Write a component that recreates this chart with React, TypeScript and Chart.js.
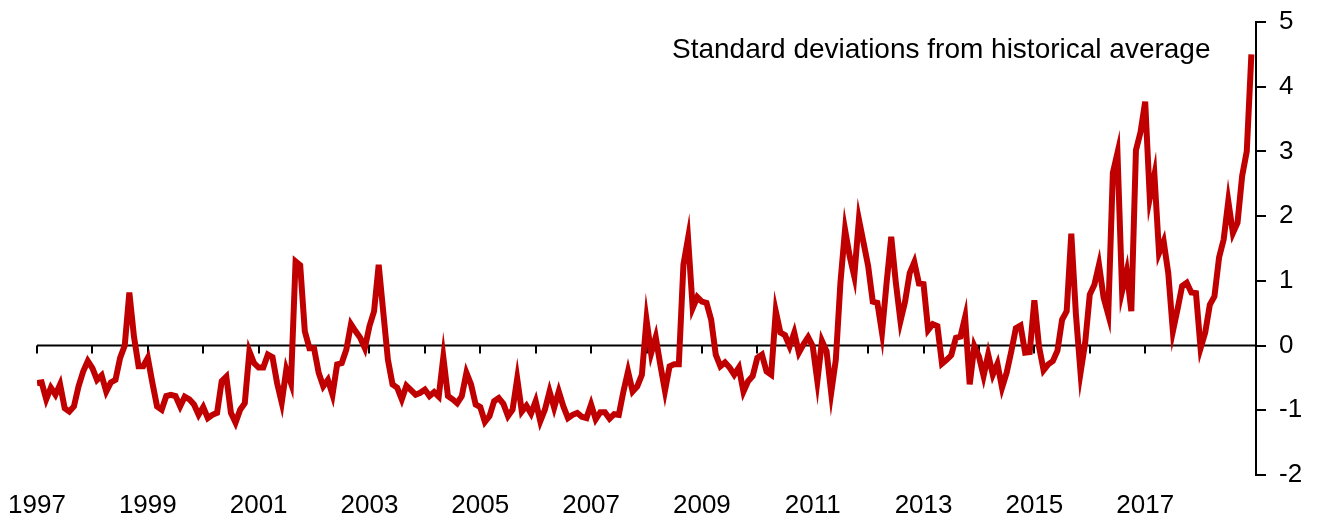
import React, { useEffect, useRef } from "react";
import { Chart, registerables } from "chart.js";

Chart.register(...registerables);

const START_YEAR = 1997;
const END_YEAR = 2019;
const LABEL_YEARS = [1997, 1999, 2001, 2003, 2005, 2007, 2009, 2011, 2013, 2015, 2017];
const TITLE = "Standard deviations from historical average";

const V1997 = [-0.58, -0.57, -0.83, -0.65, -0.76, -0.6, -0.97, -1.02, -0.94, -0.63, -0.4, -0.24];
const V1998 = [-0.35, -0.53, -0.46, -0.71, -0.57, -0.53, -0.19, 0.0, 0.82, 0.14, -0.32, -0.32];
const V1999 = [-0.19, -0.58, -0.94, -0.99, -0.78, -0.76, -0.78, -0.94, -0.79, -0.83, -0.91, -1.07];
const V2000 = [-0.95, -1.12, -1.07, -1.04, -0.55, -0.48, -1.04, -1.19, -0.99, -0.89, -0.09, -0.27];
const V2001 = [-0.34, -0.34, -0.14, -0.18, -0.58, -0.88, -0.37, -0.58, 1.3, 1.24, 0.22, -0.04];
const V2002 = [-0.04, -0.42, -0.63, -0.53, -0.76, -0.29, -0.27, -0.06, 0.33, 0.22, 0.12, -0.04];
const V2003 = [0.3, 0.53, 1.25, 0.51, -0.22, -0.6, -0.65, -0.83, -0.62, -0.69, -0.76, -0.73];
const V2004 = [-0.68, -0.78, -0.72, -0.79, -0.18, -0.78, -0.83, -0.89, -0.78, -0.42, -0.6, -0.91];
const V2005 = [-0.95, -1.18, -1.09, -0.86, -0.81, -0.9, -1.09, -0.99, -0.51, -1.02, -0.93, -1.05];
const V2006 = [-0.86, -1.17, -0.99, -0.71, -0.96, -0.71, -0.94, -1.12, -1.07, -1.04, -1.1, -1.12];
const V2007 = [-0.91, -1.14, -1.03, -1.03, -1.13, -1.06, -1.07, -0.71, -0.4, -0.71, -0.63, -0.45];
const V2008 = [0.4, -0.12, 0.13, -0.3, -0.7, -0.32, -0.29, -0.29, 1.25, 1.66, 0.58, 0.75];
const V2009 = [0.68, 0.66, 0.4, -0.14, -0.32, -0.26, -0.34, -0.45, -0.34, -0.71, -0.55, -0.47];
const V2010 = [-0.19, -0.14, -0.4, -0.45, 0.53, 0.2, 0.16, -0.01, 0.2, -0.11, 0.02, 0.13];
const V2011 = [-0.01, -0.55, 0.07, -0.09, -0.73, -0.22, 0.97, 1.79, 1.38, 1.07, 1.95, 1.59];
const V2012 = [1.23, 0.68, 0.66, 0.2, 0.97, 1.68, 0.97, 0.38, 0.68, 1.12, 1.29, 0.96];
const V2013 = [0.95, 0.24, 0.33, 0.3, -0.28, -0.22, -0.15, 0.12, 0.14, 0.44, -0.6, -0.01];
const V2014 = [-0.17, -0.47, -0.14, -0.45, -0.28, -0.65, -0.42, -0.09, 0.27, 0.31, -0.11, -0.1];
const V2015 = [0.7, -0.01, -0.38, -0.29, -0.24, -0.08, 0.4, 0.53, 1.73, 0.48, -0.42, 0.04];
const V2016 = [0.79, 0.94, 1.25, 0.74, 0.48, 2.67, 2.98, 0.84, 1.15, 0.53, 3.02, 3.3];
const V2017 = [3.77, 2.28, 2.64, 1.43, 1.61, 1.12, 0.22, 0.56, 0.92, 0.97, 0.82, 0.81];
const V2018 = [-0.04, 0.2, 0.63, 0.76, 1.36, 1.64, 2.23, 1.74, 1.9, 2.62, 3.0, 4.5];

const MONTHLY = [
  ...V1997, ...V1998, ...V1999, ...V2000, ...V2001, ...V2002, ...V2003, ...V2004,
  ...V2005, ...V2006, ...V2007, ...V2008, ...V2009, ...V2010, ...V2011, ...V2012,
  ...V2013, ...V2014, ...V2015, ...V2016, ...V2017, ...V2018,
];

const FONT = "Arial, 'Liberation Sans', sans-serif";

const zeroLinePlugin = {
  id: "zeroLine",
  beforeDatasetsDraw(chart: any) {
    const { ctx, chartArea, scales } = chart;
    const x = scales.x;
    const y = scales.y;
    const y0 = y.getPixelForValue(0);
    ctx.save();
    ctx.strokeStyle = "#000";
    ctx.lineWidth = 2;
    ctx.beginPath();
    ctx.moveTo(chartArea.left, y0);
    ctx.lineTo(chartArea.right, y0);
    for (let yr = START_YEAR; yr < END_YEAR; yr++) {
      const px = Math.round(x.getPixelForValue((yr - START_YEAR) * 12));
      ctx.moveTo(px, y0);
      ctx.lineTo(px, y0 + 8);
    }
    ctx.stroke();
    ctx.restore();
  },
  afterDraw(chart: any) {
    const { ctx } = chart;
    ctx.save();
    ctx.fillStyle = "#000";
    ctx.font = `28px ${FONT}`;
    ctx.textAlign = "left";
    ctx.textBaseline = "alphabetic";
    ctx.fillText(TITLE, 672, 58);
    ctx.restore();
  },
};

export default function App() {
  const ref = useRef<HTMLCanvasElement | null>(null);
  useEffect(() => {
    if (!ref.current) return;
    const data = MONTHLY.map((v, i) => ({ x: i, y: v }));
    const chart = new Chart(ref.current, {
      type: "line",
      data: {
        datasets: [
          {
            data,
            borderColor: "#C00000",
            borderWidth: 6,
            pointRadius: 0,
            tension: 0,
            fill: false,
          },
        ],
      },
      options: {
        animation: false,
        responsive: false,
        maintainAspectRatio: false,
        layout: { padding: { top: 22, left: 37, right: 0, bottom: 0 } },
        plugins: { legend: { display: false }, tooltip: { enabled: false } },
        scales: {
          x: {
            type: "linear",
            position: "bottom",
            min: 0,
            max: (END_YEAR - START_YEAR) * 12,
            grid: { display: false, drawTicks: false },
            border: { display: false },
            afterBuildTicks: (scale: any) => {
              scale.ticks = LABEL_YEARS.map((yr) => ({ value: (yr - START_YEAR) * 12 }));
            },
            afterFit: (scale: any) => {
              scale.height = 47;
              scale.paddingLeft = 0;
              scale.paddingRight = 0;
            },
            ticks: {
              autoSkip: false,
              maxRotation: 0,
              padding: 15,
              color: "#000",
              font: { family: FONT, size: 26 },
              callback: (v: any) => String(START_YEAR + Math.round(Number(v) / 12)),
            },
          },
          y: {
            type: "linear",
            position: "right",
            min: -2,
            max: 5,
            grid: {
              display: true,
              drawOnChartArea: false,
              drawTicks: true,
              tickLength: 10,
              color: "#000",
              lineWidth: 2,
            },
            border: { display: true, color: "#000", width: 2 },
            afterFit: (scale: any) => {
              scale.width = 63;
              scale.paddingTop = 0;
              scale.paddingBottom = 0;
            },
            ticks: {
              stepSize: 1,
              padding: 13,
              color: "#000",
              font: { family: FONT, size: 26 },
            },
          },
        },
      },
      plugins: [zeroLinePlugin],
    });
    return () => chart.destroy();
  }, []);
  return (
    <div style={{ position: "absolute", left: 0, top: 0, width: 1319, height: 522, background: "#fff" }}>
      <canvas ref={ref} width={1319} height={522} style={{ display: "block" }} />
    </div>
  );
}
